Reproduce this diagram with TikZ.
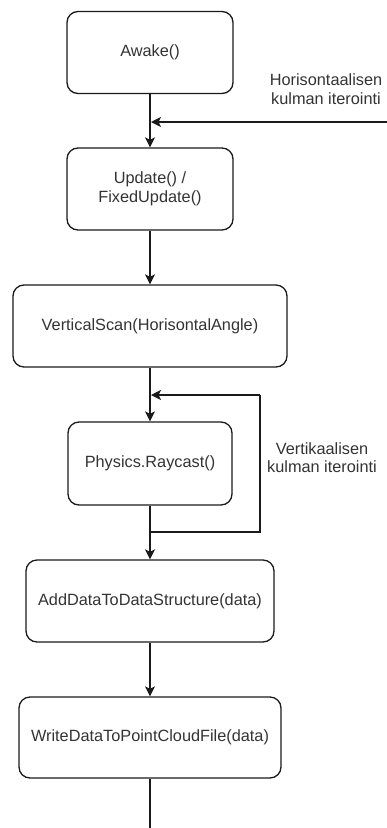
\documentclass[tikz,border=0pt]{standalone}
\usepackage{fontspec}
\setmainfont{Liberation Sans}
\usetikzlibrary{arrows.meta}
\definecolor{ln}{HTML}{1A1A1A}
\definecolor{tx}{HTML}{333333}
\begin{document}
\begin{tikzpicture}[x=1pt,y=-1pt,
  stepbox/.style={draw=ln,line width=1.3pt,rounded corners=11pt,inner sep=0pt,
    minimum height=82pt,text=tx,align=center,
    font=\fontsize{16.3}{18.5}\selectfont},
  lbl/.style={text=tx,align=center,inner sep=0pt,font=\fontsize{16.3}{18.5}\selectfont},
  arr/.style={draw=ln,line width=1.3pt,-{Stealth[length=10pt,width=10pt,inset=2.5pt]}},
  ln/.style={draw=ln,line width=1.3pt}]
\useasboundingbox (0,0) rectangle (387,828);
\node[stepbox,minimum width=166pt] (awake) at (150,52.5) {Awake()};
\node[stepbox,minimum width=166pt] (update) at (150,189) {Update() /\\FixedUpdate()};
\node[stepbox,minimum width=274pt] (vscan) at (150,326) {VerticalScan(HorisontalAngle)};
\node[stepbox,minimum width=164pt,minimum height=83pt] (phys) at (150,463.5) {Physics.Raycast()};
\node[stepbox,minimum width=248pt] (add) at (150,601) {AddDataToDataStructure(data)};
\node[stepbox,minimum width=262pt,minimum height=81pt] (write) at (150,737.5) {WriteDataToPointCloudFile(data)};
\node[lbl] (hlbl) at (326,89) {Horisontaalisen\\kulman iterointi};
\node[lbl] (vlbl) at (322,457.5) {Vertikaalisen\\kulman iterointi};
\coordinate (hin) at (387,122);
\coordinate (hmid) at (151,122);
\coordinate (jb) at (150,532);
\coordinate (jbr) at (260,532);
\coordinate (jtr) at (260,395);
\coordinate (jt) at (151,395);
\coordinate (bot) at (150,828);
\draw[arr] (awake) -- (update);
\draw[arr] (hin) -- (hmid);
\draw[arr] (update) -- (vscan);
\draw[arr] (vscan) -- (phys);
\draw[arr] (phys) -- (add);
\draw[ln] (jb) -- (jbr) -- (jtr);
\draw[arr] (jtr) -- (jt);
\draw[arr] (add) -- (write);
\draw[ln] (write) -- (bot);
\end{tikzpicture}
\end{document}
